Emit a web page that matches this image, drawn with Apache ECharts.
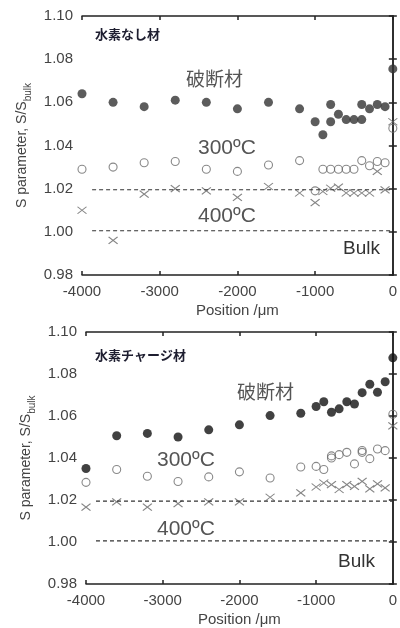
<!DOCTYPE html>
<html>
<head>
    <meta charset="utf-8">
    <title>S parameter vs position</title>
    <script src="https://cdn.jsdelivr.net/npm/echarts@6/dist/echarts.min.js"></script>
    <style>
        html, body { margin: 0; padding: 0; background: #fff; }
    </style>
</head>
<body>
    <div id="main" style="width: 400px;height:628px;"></div>
    <script type="text/javascript">
        // 目盛り
        var xTicks = [-4000, -3000, -2000, -1000, 0];
        var yTicks = [0.98, 1.00, 1.02, 1.04, 1.06, 1.08, 1.10];

        // 水素なし材 (上)
        var noH_break = [
            [-4000, 1.064], [-3600, 1.060], [-3200, 1.058], [-2800, 1.061], [-2400, 1.060],
            [-2000, 1.057], [-1600, 1.060], [-1200, 1.057], [-1000, 1.051], [-900, 1.045],
            [-800, 1.059], [-800, 1.051], [-700, 1.0545], [-600, 1.052], [-500, 1.052],
            [-400, 1.059], [-400, 1.052], [-300, 1.057], [-200, 1.059], [-100, 1.058], [0, 1.0755]
        ];
        var noH_300 = [
            [-4000, 1.029], [-3600, 1.030], [-3200, 1.032], [-2800, 1.0326], [-2400, 1.029],
            [-2000, 1.028], [-1600, 1.031], [-1200, 1.033], [-1000, 1.019], [-900, 1.029],
            [-800, 1.029], [-700, 1.029], [-600, 1.029], [-500, 1.029], [-400, 1.033],
            [-300, 1.0306], [-200, 1.0326], [-100, 1.032], [0, 1.048]
        ];
        var noH_400 = [
            [-4000, 1.010], [-3600, 0.996], [-3200, 1.0175], [-2800, 1.020], [-2400, 1.019],
            [-2000, 1.016], [-1600, 1.021], [-1200, 1.018], [-1000, 1.0135], [-900, 1.0187],
            [-800, 1.0202], [-700, 1.0207], [-600, 1.018], [-500, 1.018], [-400, 1.018],
            [-300, 1.018], [-200, 1.028], [-100, 1.0194], [0, 1.051]
        ];

        // 水素チャージ材 (下)
        var chH_break = [
            [-4000, 1.035], [-3600, 1.0506], [-3200, 1.0517], [-2800, 1.050], [-2400, 1.0534],
            [-2000, 1.0558], [-1600, 1.0602], [-1200, 1.0613], [-1000, 1.0645], [-900, 1.0668],
            [-800, 1.0618], [-700, 1.0634], [-600, 1.0668], [-500, 1.0657], [-400, 1.0711],
            [-300, 1.0751], [-200, 1.0713], [-100, 1.0763], [0, 1.0877]
        ];
        var chH_300 = [
            [-4000, 1.0284], [-3600, 1.0345], [-3200, 1.0313], [-2800, 1.0288], [-2400, 1.031],
            [-2000, 1.0334], [-1600, 1.0305], [-1200, 1.0357], [-1000, 1.036], [-900, 1.0345],
            [-800, 1.040], [-800, 1.041], [-700, 1.0416], [-600, 1.0427], [-500, 1.0372],
            [-400, 1.0436], [-400, 1.0427], [-300, 1.0397], [-200, 1.0443], [-100, 1.0435], [0, 1.0608]
        ];
        var chH_400 = [
            [-4000, 1.0166], [-3600, 1.0191], [-3200, 1.0166], [-2800, 1.0183], [-2400, 1.0191],
            [-2000, 1.0191], [-1600, 1.0213], [-1200, 1.0234], [-1000, 1.0262], [-900, 1.0281],
            [-800, 1.0273], [-700, 1.025], [-600, 1.0273], [-500, 1.0265], [-400, 1.0289],
            [-300, 1.0253], [-200, 1.0277], [-100, 1.0258], [0, 1.0553]
        ];

        // 破線 (400ºC, Bulk)
        var ref400 = [[-3870, 1.0195], [0, 1.0195]];
        var refBulk = [[-3870, 1.0005], [0, 1.0005]];

        var FONT = "'Liberation Sans', Arial, 'Noto Sans CJK JP', sans-serif";
        var JFONT = "'Noto Sans CJK JP', sans-serif";
        var crossPath = 'path://M0,0L10,8M10,0L0,8';

        var dom = document.getElementById("main");
        var myChart = echarts.init(dom);

        function xAxes(gi) {
            return [{
                gridIndex: gi, type: 'value', min: xTicks[0], max: xTicks[xTicks.length - 1], interval: 1000,
                name: 'Position /\u03bcm', nameLocation: 'middle', nameGap: 28,
                nameTextStyle: { fontFamily: FONT, fontSize: 15, color: '#444' },
                axisLine: { lineStyle: { color: '#222', width: 1.5 } },
                axisTick: { inside: true, length: 4, lineStyle: { color: '#222', width: 1.5 } },
                axisLabel: {
                    fontFamily: FONT, fontSize: 15, color: '#444', margin: 9,
                    formatter: function (v) { return String(v); }
                },
                splitLine: { show: false }
            }, {
                gridIndex: gi, type: 'value', position: 'top', min: xTicks[0], max: xTicks[xTicks.length - 1], interval: 1000,
                axisLine: { lineStyle: { color: '#222', width: 1.5 } },
                axisTick: { inside: true, length: 4, lineStyle: { color: '#222', width: 1.5 } },
                axisLabel: { show: false },
                splitLine: { show: false }
            }];
        }
        function yAxes(gi) {
            return [{
                gridIndex: gi, type: 'value', min: yTicks[0], max: yTicks[yTicks.length - 1], interval: 0.02,
                name: '{a|S parameter, S/S}{b|bulk}', nameLocation: 'middle', nameGap: 46, nameRotate: 90,
                nameTextStyle: {
                    color: '#444',
                    rich: {
                        a: { fontFamily: FONT, fontSize: 14, color: '#444', lineHeight: 22, verticalAlign: 'middle' },
                        b: { fontFamily: FONT, fontSize: 10, color: '#444', lineHeight: 22, verticalAlign: 'bottom' }
                    }
                },
                axisLine: { lineStyle: { color: '#222', width: 1.5 } },
                axisTick: { inside: true, length: 4, lineStyle: { color: '#222', width: 1.5 } },
                axisLabel: {
                    fontFamily: FONT, fontSize: 15, color: '#444', margin: 9,
                    formatter: function (v) { return v.toFixed(2); }
                },
                splitLine: { show: false }
            }, {
                gridIndex: gi, type: 'value', position: 'right', min: yTicks[0], max: yTicks[yTicks.length - 1], interval: 0.02,
                axisLine: { lineStyle: { color: '#222', width: 1.5 } },
                axisTick: { inside: true, length: 4, lineStyle: { color: '#222', width: 1.5 } },
                axisLabel: { show: false },
                splitLine: { show: false }
            }];
        }

        function pointSeries(gi, data, kind, fill) {
            var s = {
                type: 'scatter', xAxisIndex: gi * 2, yAxisIndex: gi * 2, data: data,
                animation: false, silent: true
            };
            if (kind === 'filled') {
                s.symbol = 'circle'; s.symbolSize = 9;
                s.itemStyle = { color: fill };
            } else if (kind === 'open') {
                s.symbol = 'circle'; s.symbolSize = 8;
                s.itemStyle = { color: 'rgba(255,255,255,0)', borderColor: '#6a6a6a', borderWidth: 1.1 };
            } else {
                s.symbol = crossPath; s.symbolSize = [9, 7];
                s.itemStyle = { color: 'rgba(255,255,255,0)', borderColor: '#666', borderWidth: 1.1 };
            }
            return s;
        }
        function dashSeries(gi, data) {
            return {
                type: 'line', xAxisIndex: gi * 2, yAxisIndex: gi * 2, data: data,
                symbol: 'none', animation: false, silent: true,
                lineStyle: { color: '#333', width: 1.2, type: [4, 3] }
            };
        }

        function label(x, y, text, size, color, font, weight) {
            return {
                type: 'text', x: x, y: y, silent: true,
                style: {
                    text: text, fill: color, textVerticalAlign: 'middle',
                    font: (weight || 'normal') + ' ' + size + 'px ' + (font || FONT)
                }
            };
        }

        var option = {
            backgroundColor: '#fff',
            grid: [
                { left: 82, top: 16, width: 312, height: 259 },
                { left: 86, top: 332, width: 308, height: 253 }
            ],
            xAxis: xAxes(0).concat(xAxes(1)),
            yAxis: yAxes(0).concat(yAxes(1)),
            series: [
                dashSeries(0, ref400), dashSeries(0, refBulk),
                pointSeries(0, noH_400, 'cross'), pointSeries(0, noH_300, 'open'), pointSeries(0, noH_break, 'filled', '#333'),
                dashSeries(1, ref400), dashSeries(1, refBulk),
                pointSeries(1, chH_400, 'cross'), pointSeries(1, chH_300, 'open'), pointSeries(1, chH_break, 'filled', '#111')
            ],
            graphic: [
                label(95, 34, '水素なし材', 13, '#1e1e30', JFONT, 'bold'),
                label(186, 79, '破断材', 19, '#555', JFONT),
                label(198, 148, '300ºC', 21, '#555'),
                label(198, 216, '400ºC', 21, '#555'),
                label(343, 249, 'Bulk', 19, '#333'),
                label(95, 355, '水素チャージ材', 13, '#1e1e30', JFONT, 'bold'),
                label(237, 392, '破断材', 19, '#555', JFONT),
                label(157, 460, '300ºC', 21, '#555'),
                label(157, 529, '400ºC', 21, '#555'),
                label(338, 562, 'Bulk', 19, '#333')
            ]
        };
        myChart.setOption(option);
    </script>
</body>
</html>
